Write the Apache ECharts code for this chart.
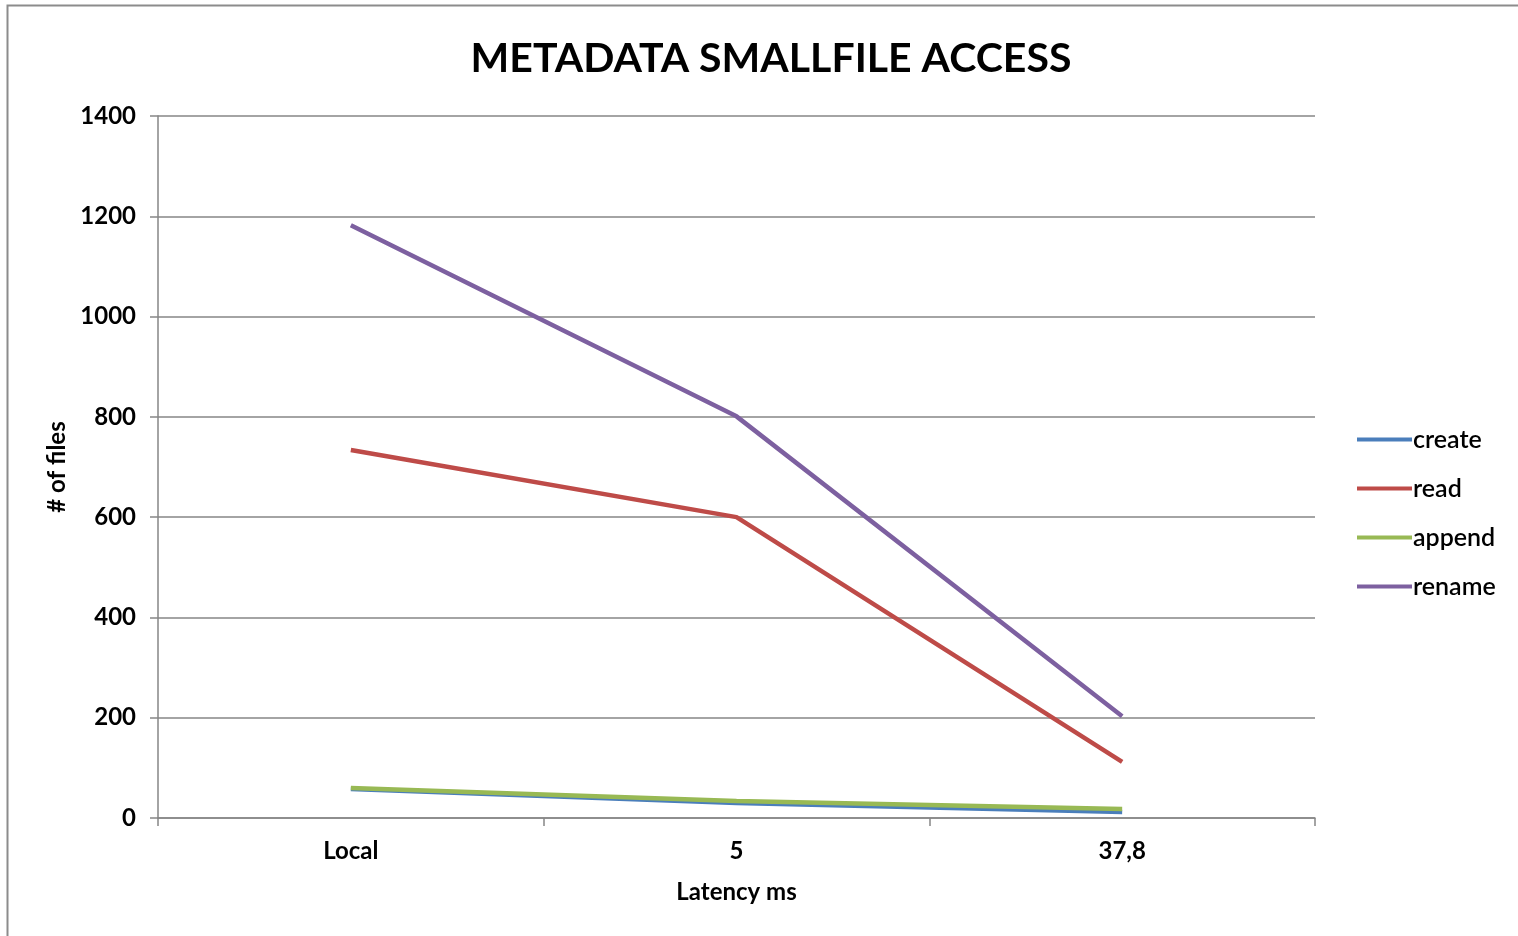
<!DOCTYPE html>
<html>
<head>
<meta charset="utf-8">
<script src="https://cdn.jsdelivr.net/npm/echarts@6/dist/echarts.min.js"></script>
<style>
  html, body { margin: 0; padding: 0; background: #fff; }
  #chart { width: 1518px; height: 936px; }
</style>
</head>
<body>
<div id="chart"></div>
<script>
// Latency categories and measured throughput per metadata operation
const categories = ['Local', '5', '37,8'];
const createVals = [58, 30, 12];
const readVals = [734, 600, 112];
const appendVals = [60, 34, 18];
const renameVals = [1182, 801, 203];
const yTicks = { min: 0, max: 1400, interval: 200 };

const FONT = 'Lato, "Open Sans", sans-serif';
const chart = echarts.init(document.getElementById('chart'));

function line(name, data, color) {
  return {
    name, type: 'line', data,
    symbol: 'none',
    lineStyle: { color, width: 4.5 },
    itemStyle: { color },
    animation: false
  };
}

chart.setOption({
  backgroundColor: '#fff',
  animation: false,
  title: {
    text: 'METADATA SMALLFILE ACCESS',
    left: 766, top: 33, textAlign: 'center',
    textStyle: { fontFamily: FONT, fontSize: 41, fontWeight: 'bold', color: '#000' }
  },
  graphic: [{
    type: 'rect', silent: true, z: -1,
    shape: { x: 7.5, y: 5.5, width: 1600, height: 1000 },
    style: { fill: 'none', stroke: '#8c8c8c', lineWidth: 2 }
  }],
  grid: { left: 158, right: 203, top: 116, bottom: 118 },
  legend: {
    orient: 'vertical', left: 1357, top: 427, padding: 0,
    itemWidth: 55, itemHeight: 4, itemGap: 24,
    icon: 'rect',
    textStyle: { fontFamily: FONT, fontSize: 25, fontWeight: 600, color: '#000', padding: [0, 0, 0, -4] },
    data: ['create', 'read', 'append', 'rename']
  },
  xAxis: {
    type: 'category', data: categories, boundaryGap: true,
    name: 'Latency ms', nameLocation: 'middle', nameGap: 62,
    nameTextStyle: { fontFamily: FONT, fontSize: 24, fontWeight: 'bold', color: '#000' },
    axisLine: { lineStyle: { color: '#868686', width: 1.5 } },
    axisTick: { show: true, length: 8, inside: false, lineStyle: { color: '#868686', width: 1.5 } },
    axisLabel: { fontFamily: FONT, fontSize: 24, fontWeight: 'bold', color: '#000', margin: 21 }
  },
  yAxis: {
    type: 'value', min: yTicks.min, max: yTicks.max, interval: yTicks.interval,
    name: '# of files', nameLocation: 'middle', nameGap: 86, nameRotate: 90,
    nameTextStyle: { fontFamily: FONT, fontSize: 24, fontWeight: 'bold', color: '#000' },
    axisLine: { show: true, lineStyle: { color: '#868686', width: 1.5 } },
    axisTick: { show: true, length: 8, lineStyle: { color: '#868686', width: 1.5 } },
    axisLabel: { fontFamily: FONT, fontSize: 24, fontWeight: 'bold', color: '#000', margin: 22,
      formatter: v => String(v) },
    splitLine: { show: true, lineStyle: { color: '#868686', width: 1.5 } }
  },
  series: [
    line('create', createVals, '#4A7EBB'),
    line('read', readVals, '#BE4B48'),
    line('append', appendVals, '#98B954'),
    line('rename', renameVals, '#7D60A0')
  ]
});
</script>
</body>
</html>
